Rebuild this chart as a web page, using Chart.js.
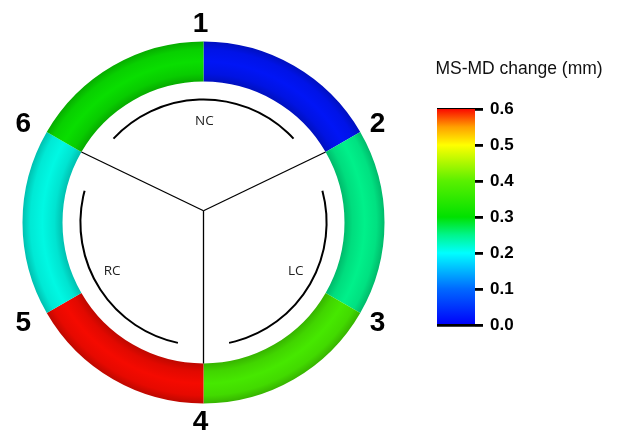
<!DOCTYPE html>
<html>
<head>
<meta charset="utf-8">
<script src="https://cdn.jsdelivr.net/npm/chart.js@4/dist/chart.umd.min.js"></script>
<style>
  html, body { margin: 0; padding: 0; background: #fff; overflow: hidden; }
  #wrap { position: relative; width: 618px; height: 436px; }
  #ring { position: absolute; left: 0; top: 0; }
  #bar { position: absolute; left: 400px; top: 40px; }
</style>
</head>
<body>
<div id="wrap">
  <canvas id="ring" width="618" height="436"></canvas>
  <canvas id="bar" width="218" height="310"></canvas>
</div>
<script>
// ---- data ----
const segments = ['1', '2', '3', '4', '5', '6'];
const msmdChange = [0.02, 0.25, 0.38, 0.60, 0.21, 0.31];
const cusps = ['NC', 'LC', 'RC'];
const colorbarTicks = [0.0, 0.1, 0.2, 0.3, 0.4, 0.5, 0.6];
const colorbarTitle = 'MS-MD change (mm)';

// ---- colormap (style) ----
const CMIN = colorbarTicks[0], CMAX = colorbarTicks[colorbarTicks.length - 1];
const jet = [
  [0.000, [0, 0, 250]],
  [0.167, [0, 105, 255]],
  [0.333, [0, 255, 255]],
  [0.417, [0, 245, 140]],
  [0.500, [0, 225, 0]],
  [0.667, [90, 240, 0]],
  [0.833, [255, 255, 0]],
  [0.917, [255, 160, 0]],
  [1.000, [250, 10, 0]]
];
function cmap(v) {
  const t = Math.max(0, Math.min(1, (v - CMIN) / (CMAX - CMIN)));
  for (let i = 1; i < jet.length; i++) {
    if (t <= jet[i][0]) {
      const [t0, c0] = jet[i - 1], [t1, c1] = jet[i];
      const f = (t - t0) / (t1 - t0);
      return c0.map((c, k) => c + (c1[k] - c) * f);
    }
  }
  return jet[jet.length - 1][1];
}
const rgb = c => `rgb(${c.map(x => Math.round(Math.max(0, Math.min(255, x)))).join(',')})`;
const shade = [[0, 0.76], [0.2, 0.9], [0.5, 0.98], [0.8, 0.92], [1, 0.76]];
const CUT = 0.779;

// ---- ring overlay plugin ----
const overlay = {
  id: 'overlay',
  afterDatasetsDraw(chart) {
    const arcs = chart.getDatasetMeta(0).data;
    if (!arcs.length) return;
    const ctx = chart.ctx;
    const cx = arcs[0].x, cy = arcs[0].y, R = arcs[0].outerRadius, r = arcs[0].innerRadius;
    ctx.save();
    // segment numbers at boundaries
    ctx.fillStyle = '#000';
    ctx.font = 'bold 28px "Liberation Sans", Arial, sans-serif';
    ctx.textAlign = 'center';
    ctx.textBaseline = 'middle';
    arcs.forEach((a, i) => {
      const lx = cx - 3 + R * 1.13 * Math.cos(a.startAngle);
      const ly = cy + R * 1.1 * Math.sin(a.startAngle);
      ctx.fillText(segments[i], lx, ly + 1);
    });
    // spokes
    const hubX = cx, hubY = cy - R * 0.065;
    ctx.strokeStyle = '#000';
    ctx.lineWidth = 1.3;
    [1, 3, 5].forEach(i => {
      const ang = arcs[i].startAngle;
      ctx.beginPath();
      ctx.moveTo(hubX, hubY);
      ctx.lineTo(cx + r * Math.cos(ang), cy + r * Math.sin(ang));
      ctx.stroke();
    });
    // cusp arcs (angles clockwise from top, degrees)
    const cuspArcs = [[-47, 47], [75, 168], [192, 285]];
    const cuspLabelPos = [[0.005, -0.56], [0.51, 0.27], [-0.505, 0.27]];
    const ra = R * 0.68;
    ctx.lineWidth = 2;
    cuspArcs.forEach(([a0, a1]) => {
      ctx.beginPath();
      ctx.arc(cx, cy, ra, (a0 - 90) * Math.PI / 180, (a1 - 90) * Math.PI / 180);
      ctx.stroke();
    });
    ctx.fillStyle = '#222';
    ctx.font = '13.5px "Open Sans", "DejaVu Sans", sans-serif';
    cusps.forEach((c, k) => {
      ctx.fillText(c, cx + cuspLabelPos[k][0] * R, cy + cuspLabelPos[k][1] * R);
    });
    ctx.restore();
  }
};

new Chart(document.getElementById('ring'), {
  type: 'doughnut',
  data: {
    labels: segments,
    datasets: [{
      data: segments.map(() => 1),
      borderWidth: 0,
      hoverBorderWidth: 0,
      hoverOffset: 0,
      backgroundColor: (c) => {
        const base = cmap(msmdChange[c.dataIndex]);
        const ca = c.chart.chartArea;
        if (!ca) return rgb(base);
        const cx = (ca.left + ca.right) / 2, cy = (ca.top + ca.bottom) / 2;
        const R = Math.min(ca.right - ca.left, ca.bottom - ca.top) / 2;
        const g = c.chart.ctx.createRadialGradient(cx, cy, R * CUT, cx, cy, R);
        shade.forEach(([t, f]) => g.addColorStop(t, rgb(base.map(v => v * f))));
        return g;
      }
    }]
  },
  options: {
    responsive: false,
    devicePixelRatio: 1,
    animation: false,
    events: [],
    cutout: (CUT * 100) + '%',
    layout: { padding: { left: 22.5, top: 41.5, right: 233.5, bottom: 32.5 } },
    plugins: { legend: { display: false }, tooltip: { enabled: false } }
  },
  plugins: [overlay]
});

// ---- colorbar ----
const cbTitle = {
  id: 'cbTitle',
  afterDraw(chart) {
    const ctx = chart.ctx;
    ctx.save();
    ctx.fillStyle = '#111';
    ctx.font = '17.5px "Liberation Sans", Arial, sans-serif';
    ctx.textAlign = 'center';
    ctx.textBaseline = 'middle';
    ctx.fillText(colorbarTitle, 119, 29);
    ctx.restore();
  }
};

new Chart(document.getElementById('bar'), {
  type: 'bar',
  data: {
    labels: [colorbarTitle],
    datasets: [{
      data: [[CMIN, CMAX]],
      borderWidth: 0,
      barPercentage: 1,
      categoryPercentage: 1,
      backgroundColor: (c) => {
        const ys = c.chart.scales.y;
        if (!ys || !c.chart.chartArea) return '#0f0';
        const g = c.chart.ctx.createLinearGradient(0, ys.getPixelForValue(CMIN), 0, ys.getPixelForValue(CMAX));
        jet.forEach(([t, col]) => g.addColorStop(t, rgb(col)));
        return g;
      }
    }]
  },
  options: {
    responsive: false,
    devicePixelRatio: 1,
    animation: false,
    events: [],
    layout: { padding: { left: 37, top: 69, right: 83, bottom: 25 } },
    plugins: { legend: { display: false }, tooltip: { enabled: false }, title: { display: false } },
    scales: {
      x: { display: false },
      y: {
        position: 'right',
        min: CMIN,
        max: CMAX,
        z: 1,
        afterFit(s) { s.width = 60; },
        afterBuildTicks(s) { s.ticks = colorbarTicks.map(v => ({ value: v })); },
        border: { display: false },
        grid: {
          drawOnChartArea: true,
          color: (c) => (c.index === 0 || c.index === colorbarTicks.length - 1) ? '#000' : 'rgba(0,0,0,0)',
          lineWidth: 2.8,
          tickColor: '#000',
          tickWidth: 2.8,
          tickLength: 8
        },
        ticks: {
          padding: 7,
          color: '#000',
          font: { family: '"Liberation Sans", Arial, sans-serif', size: 17, weight: 'bold' },
          callback: (v) => Number(v).toFixed(1)
        }
      }
    }
  },
  plugins: [cbTitle]
});
</script>
</body>
</html>
